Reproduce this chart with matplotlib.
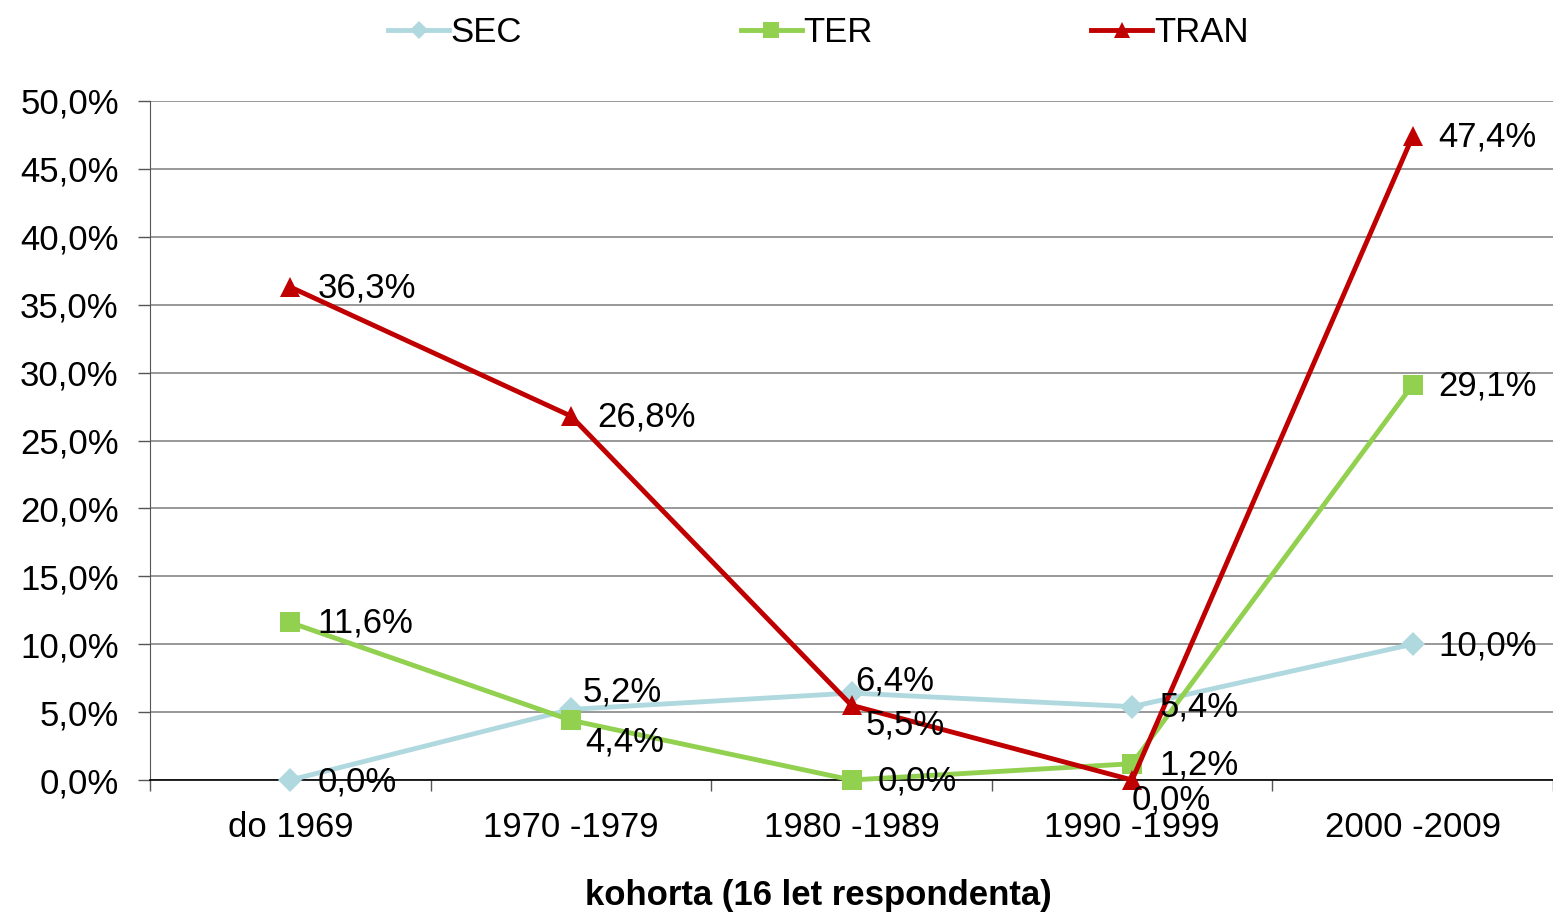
import numpy as np
import matplotlib.pyplot as plt
from matplotlib.ticker import FuncFormatter, FixedLocator

plt.rcParams['font.family'] = ['Liberation Sans', 'DejaVu Sans']

kohorty = ['do 1969', '1970 -1979', '1980 -1989', '1990 -1999', '2000 -2009']
sec = [0.0, 5.2, 6.4, 5.4, 10.0]
ter = [11.6, 4.4, 0.0, 1.2, 29.1]
tran = [36.3, 26.8, 5.5, 0.0, 47.4]

# label offsets in pixels (dx, dy) for each point
sec_off = [(27, -2), (12, 17), (4, 12), (27, 0), (26, -2)]
ter_off = [(27, -1), (14, -22), (26, -1), (27, -1), (26, -1)]
tran_off = [(27, -1), (26, -1), (14, -20), (0, -20), (26, -1)]

FS = 25

fig = plt.figure(figsize=(15.53, 9.15), dpi=100)
ax = fig.add_axes([150/1553, 1-780/915, 1-150/1553, (780-101)/915])

x = np.arange(len(kohorty))
series = [
    ('SEC', sec, '#B0D9DF', 'D', 12, sec_off),
    ('TER', ter, '#92D050', 's', 14, ter_off),
    ('TRAN', tran, '#C00000', '^', 15, tran_off),
]
for name, vals, col, mk, ms, offs in series:
    ax.plot(x, vals, color=col, lw=3.5, marker=mk, markersize=ms,
            markeredgewidth=0, label=name, clip_on=False, zorder=3)
for name, vals, col, mk, ms, offs in series:
    for xi, v, (dx, dy) in zip(x, vals, offs):
        ax.annotate(f'{v:.1f}%'.replace('.', ','), (xi, v), xytext=(dx, dy),
                    textcoords='offset pixels', ha='left', va='center',
                    fontsize=FS, zorder=5)

ax.set_xlim(-0.5, len(kohorty) - 0.5)
ax.set_ylim(0, 50)
ax.set_yticks(np.arange(0, 51, 5))
ax.yaxis.set_major_formatter(FuncFormatter(lambda v, p: f'{v:.1f}%'.replace('.', ',')))
ax.grid(axis='y', color='#868686', lw=1.2, zorder=0)
ax.set_axisbelow(True)

ax.set_xticks(x)
ax.set_xticklabels(kohorty)
ax.xaxis.set_minor_locator(FixedLocator(np.arange(-0.5, len(kohorty), 1)))
ax.tick_params(axis='x', which='major', length=0, pad=22, labelsize=FS)
ax.tick_params(axis='x', which='minor', length=8, width=1, direction='out', color='#555555')
ax.tick_params(axis='y', length=8.5, width=1, direction='out', color='#555555', pad=14, labelsize=FS)

for s in ['top', 'right']:
    ax.spines[s].set_visible(False)
ax.spines['left'].set_color('#555555')
ax.spines['bottom'].set_color('black')
ax.spines['bottom'].set_linewidth(1.2)

fig.text(818/1553, 1-895/915, 'kohorta (16 let respondenta)', fontsize=FS,
         fontweight='bold', ha='center', va='center')

fig.legend(loc='upper center', bbox_to_anchor=(0.527, 1.017), ncol=3, frameon=False,
           fontsize=FS, handlelength=1.75, handletextpad=0.05, columnspacing=6.3,
           markerscale=0.8)

fig.savefig('out.png', dpi=100)
